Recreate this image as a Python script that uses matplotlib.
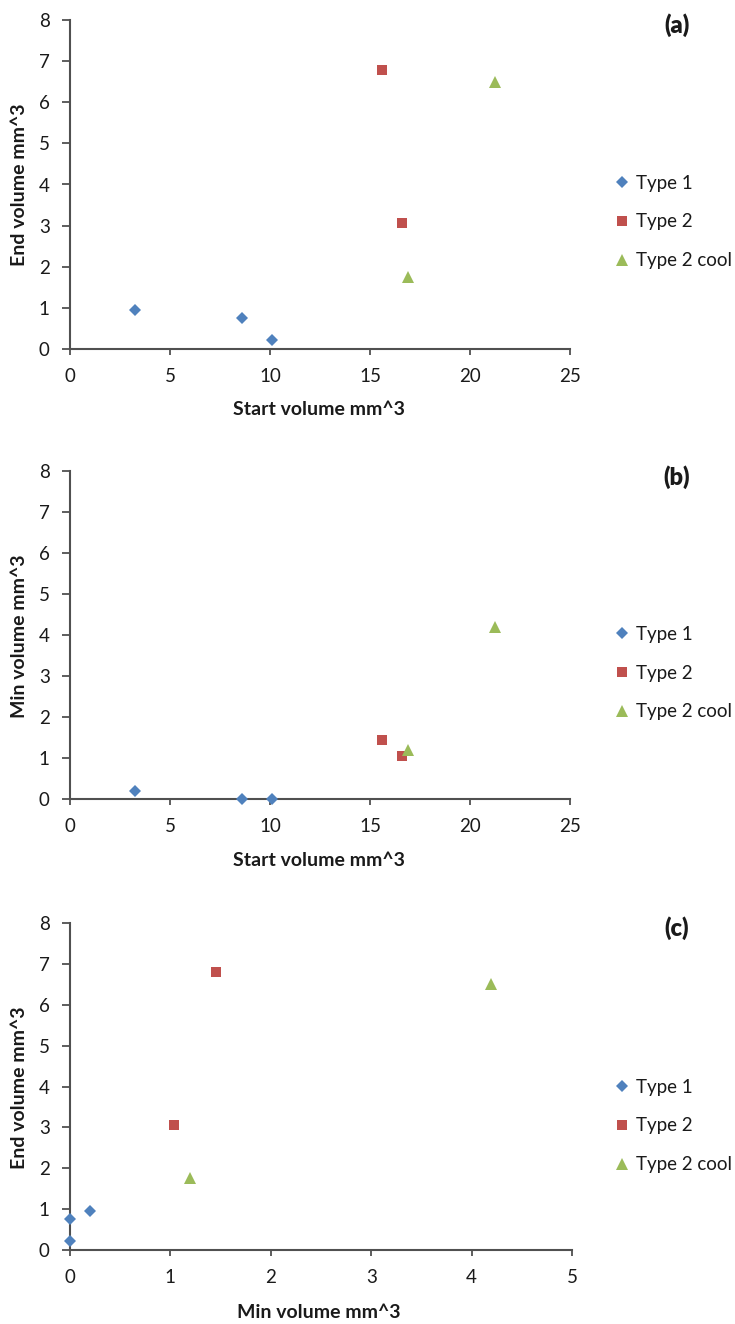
import matplotlib
matplotlib.use("Agg")
import matplotlib.pyplot as plt

# Data
start_t1 = [3.26, 8.61, 10.08]
end_t1 = [0.95, 0.76, 0.21]
min_t1 = [0.20, 0.0, 0.0]

start_t2 = [15.62, 16.58]
end_t2 = [6.79, 3.07]
min_t2 = [1.45, 1.04]

start_t2c = [16.89, 21.25]
end_t2c = [1.75, 6.50]
min_t2c = [1.20, 4.19]

labels = ["Type 1", "Type 2", "Type 2 cool"]
colors = ["#4F81BD", "#C0504D", "#9BBB59"]
markers = ["D", "s", "^"]
msizes = [6.5, 7.2, 9.0]

W, H = 735, 1324
fig = plt.figure(figsize=(W / 100, H / 100), dpi=100)

FONT = "Lato"
AXCOL = "#505050"
TXTCOL = "#1a1a1a"


def box(left, right, top, bottom):
    return [left / W, 1 - bottom / H, (right - left) / W, (bottom - top) / H]


panels = [
    dict(rect=box(70, 570, 20, 349), xs=[start_t1, start_t2, start_t2c],
         ys=[end_t1, end_t2, end_t2c], xmax=25, xstep=5,
         xlabel="Start volume mm^3", ylabel="End volume mm^3", tag="(a)",
         tagy=25, xlaby=410, ylaby=185, legy=222),
    dict(rect=box(70, 570, 471, 799), xs=[start_t1, start_t2, start_t2c],
         ys=[min_t1, min_t2, min_t2c], xmax=25, xstep=5,
         xlabel="Start volume mm^3", ylabel="Min volume mm^3", tag="(b)",
         tagy=477, xlaby=861, ylaby=636, legy=673),
    dict(rect=box(70, 572, 923, 1250), xs=[min_t1, min_t2, min_t2c],
         ys=[end_t1, end_t2, end_t2c], xmax=5, xstep=1,
         xlabel="Min volume mm^3", ylabel="End volume mm^3", tag="(c)",
         tagy=928, xlaby=1312, ylaby=1088, legy=1126),
]

for p in panels:
    ax = fig.add_axes(p["rect"])
    for xs, ys, lab, c, m, ms in zip(p["xs"], p["ys"], labels, colors, markers, msizes):
        ax.plot(xs, ys, linestyle="none", marker=m, color=c, markersize=ms,
                markeredgewidth=0, label=lab, clip_on=False, zorder=3)
    ax.set_xlim(0, p["xmax"])
    ax.set_ylim(0, 8)
    ax.set_xticks(range(0, p["xmax"] + 1, p["xstep"]))
    ax.set_yticks(range(0, 9))
    for s in ["top", "right"]:
        ax.spines[s].set_visible(False)
    for s in ["left", "bottom"]:
        ax.spines[s].set_color(AXCOL)
        ax.spines[s].set_linewidth(1.5)
    ax.tick_params(axis="y", direction="out", length=5.6, width=1.3, color=AXCOL,
                   labelsize=13.5, labelcolor=TXTCOL, pad=9)
    ax.tick_params(axis="x", direction="out", length=4.5, width=1.3, color=AXCOL,
                   labelsize=13.5, labelcolor=TXTCOL, pad=9)
    for t in ax.get_xticklabels() + ax.get_yticklabels():
        t.set_fontfamily(FONT)
    fig.text(20 / W, 1 - p["ylaby"] / H, p["ylabel"], fontfamily=FONT,
             fontweight="bold", fontsize=14, rotation=90, ha="center",
             va="center", color=TXTCOL)
    fig.text(319 / W, 1 - p["xlaby"] / H, p["xlabel"], fontfamily=FONT,
             fontweight="bold", fontsize=14, ha="center", va="center",
             color=TXTCOL)
    fig.text(677 / W, 1 - p["tagy"] / H, p["tag"], fontfamily=FONT,
             fontweight="heavy", fontsize=17, ha="center", va="center",
             color=TXTCOL)
    leg = fig.legend(handles=ax.get_lines(), loc="center left",
                     bbox_to_anchor=(614 / W, 1 - p["legy"] / H),
                     frameon=False, handlelength=0.8, handletextpad=0.35,
                     labelspacing=1.15, borderpad=0, borderaxespad=0,
                     prop={"family": FONT, "size": 13.5})
    for t in leg.get_texts():
        t.set_color(TXTCOL)

fig.savefig("out.png", dpi=100, facecolor="white")
